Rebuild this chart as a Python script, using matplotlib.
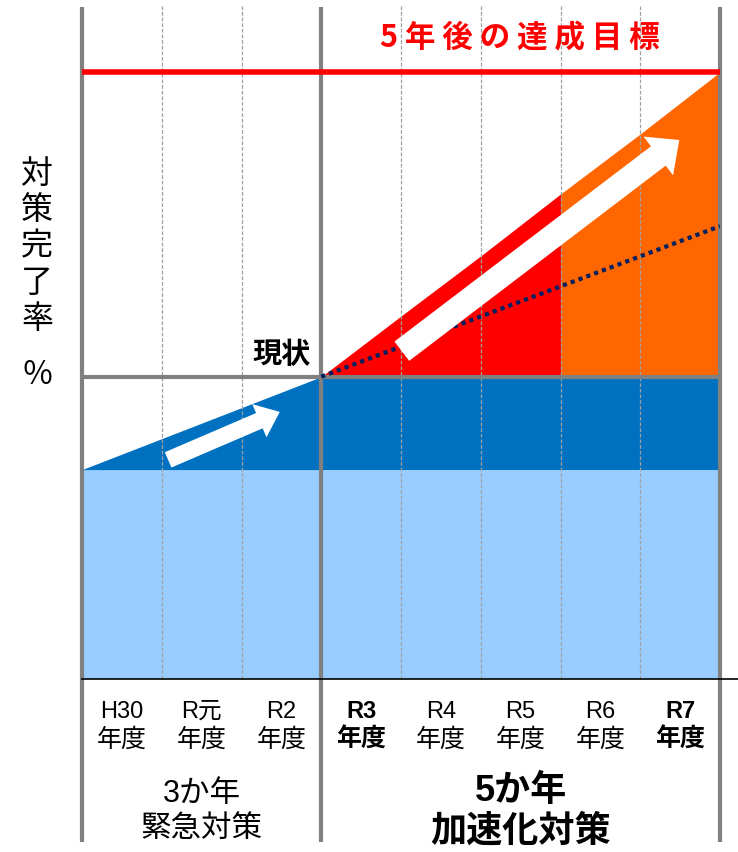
import matplotlib.pyplot as plt

plt.rcParams['font.family'] = ['Liberation Sans', 'Noto Sans CJK JP', 'DejaVu Sans']

# ==========================
# DATA
# ==========================

years = ["H30", "R元", "R2", "R3", "R4", "R5", "R6", "R7"]
bold_years = ["R3", "R7"]

base_rate = 34.5        # light blue level
current_rate = 49.8     # 現状
target_rate = 100.0     # 5年後の達成目標
trend_end = 74.6        # dotted trend at R7 end

# planned rate at the year boundaries R3 start .. R7 end
plan_x = [3, 4, 5, 6, 7, 8]
plan_rate = [49.8, 59.8, 69.7, 79.9, 89.8, 100.0]
n_red = 4               # R3..R5 drawn in red, R6..R7 orange

# ==========================
# FIGURE
# ==========================

PX = 6.07   # pixels per percent unit

fig = plt.figure(figsize=(7.38, 8.53), dpi=100)
ax = fig.add_axes([82/738, 173/853, 638/738, 680/853])
ax.set_xlim(0, 8)
ax.set_ylim(0, 680/PX)
ax.axis('off')


def py(p):
    # pixel row -> data value
    return (680 - p) / PX


gray = "#808080"

# fills
ax.fill_between([0, 8], 0, base_rate, color="#99CCFF", lw=0, zorder=1)
ax.fill_between([0, 3], base_rate, [base_rate, current_rate], color="#0070C0", lw=0, zorder=1)
ax.fill_between([3, 8], base_rate, current_rate, color="#0070C0", lw=0, zorder=1)
ax.fill_between(plan_x[n_red-1:], current_rate, plan_rate[n_red-1:], color="#FF6600", lw=0, zorder=1)
ax.fill_between(plan_x[:n_red], current_rate, plan_rate[:n_red], color="#FF0000", lw=0, zorder=1)

# vertical grid
for i in range(9):
    if i in (0, 3, 8):
        ax.plot([i, i], [py(843), py(8)], color=gray, lw=3,
                solid_capstyle='butt', clip_on=False, zorder=3)
    else:
        ax.plot([i, i], [0, py(7)], color="#A0A0A0", lw=0.9,
                linestyle=(0, (3, 1.5)), clip_on=False, zorder=2)

# horizontal lines
ax.plot([0, 8], [current_rate, current_rate], color=gray, lw=3, zorder=3)
ax.plot([0, 8], [target_rate, target_rate], color="#FF0000", lw=4, zorder=3)
ax.plot([0, 8 + 18/79.75], [0, 0], color="black", lw=1.2, clip_on=False, zorder=3)

# dotted trend
ax.plot([3, 8], [current_rate, trend_end], color="#002060", lw=3,
        linestyle=(0, (1, 1)), zorder=4)

# white arrows
ax.annotate("", xy=(2.48, 44.0), xytext=(1.08, 36.1),
            arrowprops=dict(arrowstyle="simple,head_length=1.6,head_width=2.6,tail_width=1.2",
                            fc="white", ec="none", mutation_scale=10,
                            shrinkA=0, shrinkB=0), zorder=5)
ax.annotate("", xy=(7.49, 88.8), xytext=(4.01, 54.0),
            arrowprops=dict(arrowstyle="simple,head_length=1.9,head_width=3.5,tail_width=1.75",
                            fc="white", ec="none", mutation_scale=10,
                            shrinkA=0, shrinkB=0), zorder=5)

# ==========================
# TEXT
# ==========================

for i, y in enumerate(years):
    w = "bold" if y in bold_years else "normal"
    ax.text(i + 0.5, py(712), y, ha="center", va="center", fontsize=17, fontweight=w)
    ax.text(i + 0.5, py(740), "年度", ha="center", va="center", fontsize=18, fontweight=w)

ax.text(1.5, py(794), "3か年", ha="center", va="center", fontsize=22)
ax.text(1.5, py(829), "緊急対策", ha="center", va="center", fontsize=22)
ax.text(5.5, py(792), "5か年", ha="center", va="center", fontsize=26, fontweight="bold")
ax.text(5.5, py(832), "加速化対策", ha="center", va="center", fontsize=26, fontweight="bold")

ax.text(5.49, py(38), "5 年 後 の 達 成 目 標", ha="center", va="center",
        fontsize=22, fontweight="bold", color="#FF0000",
        family=['Noto Sans CJK JP', 'DejaVu Sans'])

ax.text(2.5, py(355), "現状", ha="center", va="center", fontsize=21, fontweight="bold")

for k, ch in enumerate("対策完了率"):
    fig.text(37/738, 1 - (174 + 36.2*k)/853, ch, ha="center", va="center", fontsize=23,
             family=['Noto Sans CJK JP', 'DejaVu Sans'])
fig.text(37/738, 1 - 375/853, "％", ha="center", va="center", fontsize=23,
         family=['Noto Sans CJK JP', 'DejaVu Sans'])

fig.savefig("out.png", dpi=100)
